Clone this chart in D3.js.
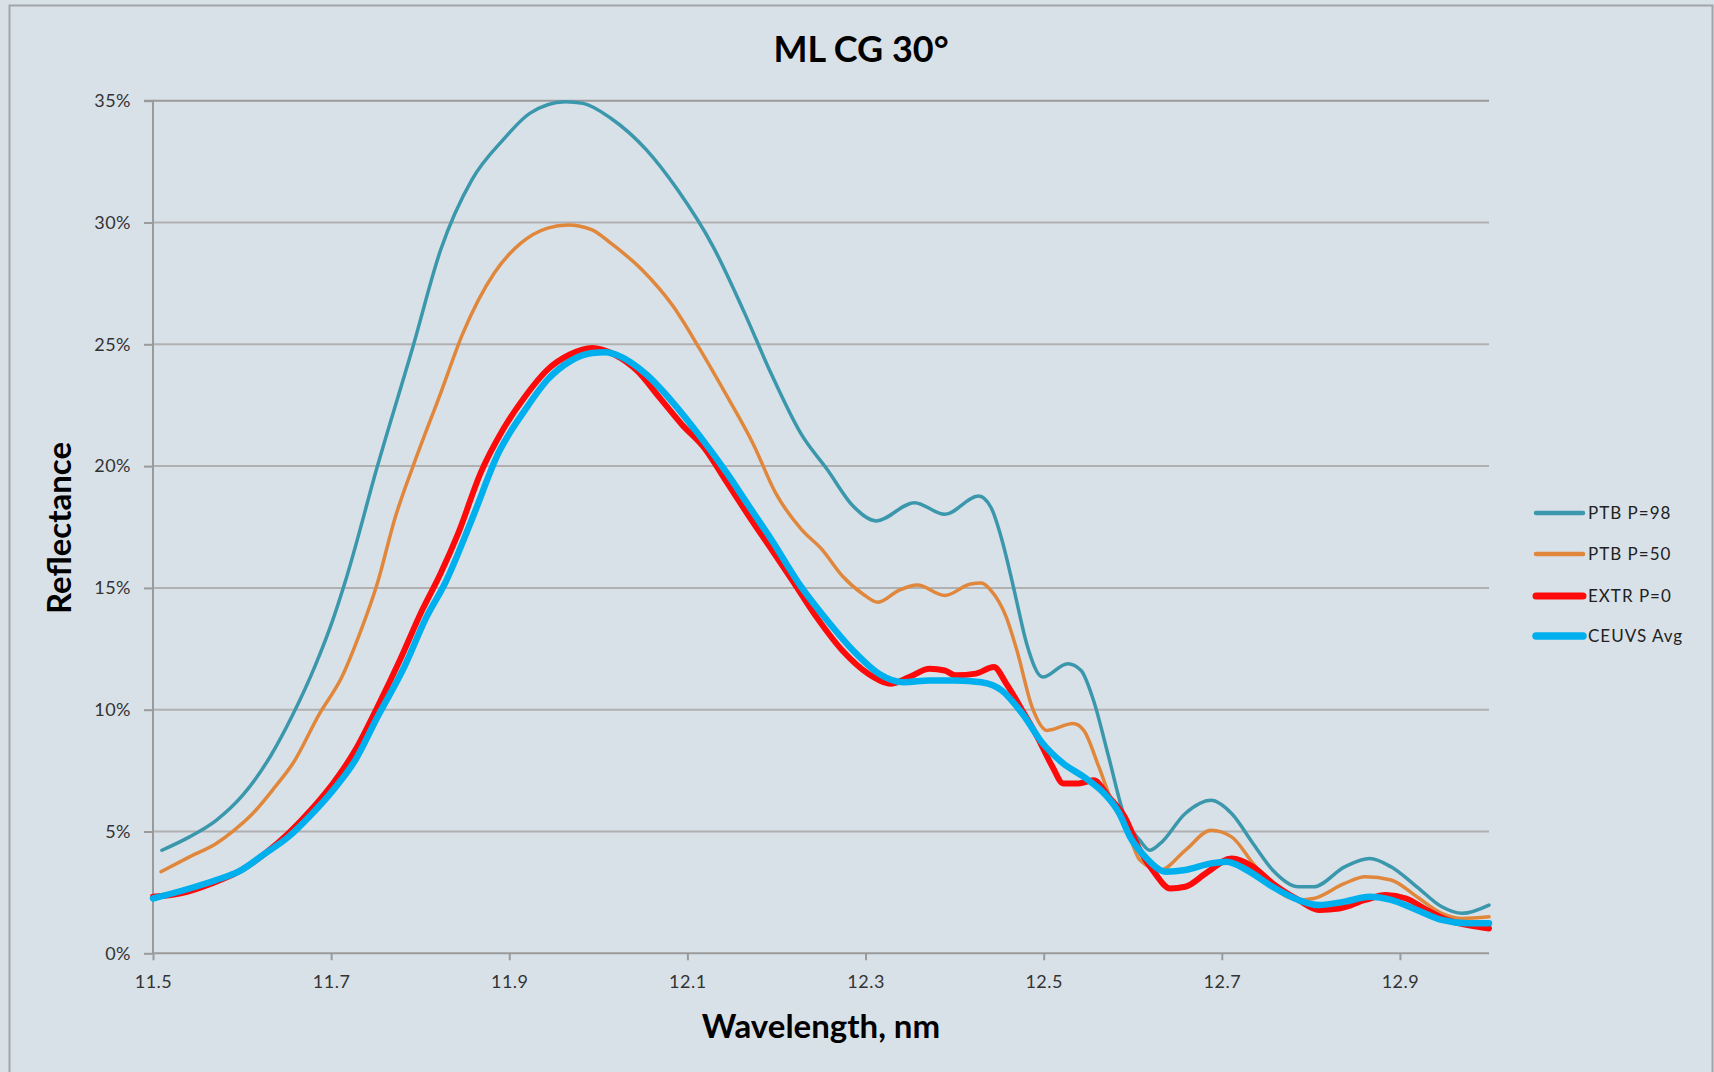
<!DOCTYPE html>
<html>
<head>
<meta charset="utf-8">
<script src="https://cdn.jsdelivr.net/npm/d3@7"></script>
<style>
  html, body { margin: 0; padding: 0; background: #d9e1e8; }
  svg { display: block; }
</style>
</head>
<body>
<svg id="chart" width="1714" height="1072"></svg>
<script>
// ---------------- DATA ----------------
const chartTitle = "ML CG 30°";
const xAxisTitle = "Wavelength, nm";
const yAxisTitle = "Reflectance";
const seriesNames = ["PTB P=98", "PTB P=50", "EXTR P=0", "CEUVS Avg"];
const xTicks = [11.5, 11.7, 11.9, 12.1, 12.3, 12.5, 12.7, 12.9];
const yTicks = [0, 5, 10, 15, 20, 25, 30, 35];

const ptb98Wl = [11.51, 11.541, 11.571, 11.601, 11.632, 11.657, 11.682, 11.702, 11.717, 11.752, 11.792, 11.823, 11.858, 11.893, 11.923, 11.963, 11.983, 12.014, 12.054, 12.089, 12.129, 12.164, 12.194, 12.228, 12.257, 12.286, 12.312, 12.355, 12.389, 12.427, 12.441, 12.453, 12.464, 12.470, 12.481, 12.499, 12.527, 12.542, 12.556, 12.573, 12.591, 12.608, 12.619, 12.631, 12.659, 12.688, 12.711, 12.735, 12.757, 12.786, 12.803, 12.838, 12.866, 12.89, 12.919, 12.947, 12.97, 13.0];
const ptb98R = [4.23, 4.78, 5.46, 6.5, 8.1, 9.8, 11.8, 13.7, 15.4, 20.0, 24.92, 28.88, 31.75, 33.39, 34.48, 34.96, 34.89, 34.28, 32.98, 31.34, 29.0, 26.3, 23.8, 21.3, 19.86, 18.36, 17.75, 18.5, 18.02, 18.77, 18.29, 16.99, 15.36, 14.4, 12.7, 11.34, 11.89, 11.61, 10.38, 8.06, 5.6, 4.64, 4.23, 4.51, 5.74, 6.28, 5.74, 4.51, 3.42, 2.73, 2.73, 3.55, 3.89, 3.55, 2.73, 1.91, 1.64, 1.98];

const ptb50Wl = [11.509, 11.541, 11.571, 11.591, 11.612, 11.637, 11.657, 11.687, 11.712, 11.732, 11.752, 11.772, 11.792, 11.823, 11.848, 11.883, 11.913, 11.943, 11.966, 11.993, 12.014, 12.049, 12.084, 12.114, 12.144, 12.174, 12.199, 12.228, 12.251, 12.274, 12.297, 12.314, 12.337, 12.358, 12.389, 12.418, 12.43, 12.441, 12.458, 12.47, 12.487, 12.504, 12.533, 12.545, 12.562, 12.579, 12.591, 12.608, 12.631, 12.659, 12.688, 12.711, 12.735, 12.757, 12.786, 12.803, 12.838, 12.861, 12.89, 12.919, 12.947, 12.97, 13.0];
const ptb50R = [3.35, 3.96, 4.51, 5.05, 5.74, 6.83, 7.79, 9.84, 11.34, 13.11, 15.2, 17.9, 20.0, 23.0, 25.46, 27.92, 29.15, 29.77, 29.9, 29.7, 29.15, 28.06, 26.56, 24.8, 22.9, 20.9, 18.9, 17.4, 16.58, 15.49, 14.75, 14.41, 14.89, 15.12, 14.69, 15.16, 15.2, 14.89, 13.8, 12.43, 10.11, 9.15, 9.43, 9.15, 7.65, 6.01, 5.33, 3.83, 3.42, 4.23, 5.05, 4.78, 3.69, 2.73, 2.19, 2.25, 2.87, 3.14, 3.01, 2.32, 1.64, 1.43, 1.5];

const extrWl = [11.5, 11.531, 11.566, 11.596, 11.626, 11.652, 11.677, 11.702, 11.727, 11.752, 11.777, 11.802, 11.823, 11.843, 11.868, 11.893, 11.918, 11.943, 11.968, 11.993, 12.018, 12.044, 12.069, 12.094, 12.119, 12.144, 12.169, 12.194, 12.217, 12.245, 12.274, 12.303, 12.329, 12.349, 12.372, 12.389, 12.401, 12.424, 12.444, 12.458, 12.476, 12.493, 12.51, 12.522, 12.539, 12.556, 12.573, 12.591, 12.608, 12.625, 12.642, 12.659, 12.682, 12.711, 12.735, 12.757, 12.786, 12.809, 12.832, 12.861, 12.884, 12.907, 12.93, 12.953, 12.976, 13.0];
const extrR = [2.32, 2.46, 2.87, 3.35, 4.1, 4.92, 5.87, 6.97, 8.33, 10.11, 12.02, 14.07, 15.6, 17.27, 19.73, 21.5, 22.87, 23.96, 24.58, 24.85, 24.58, 23.9, 22.8, 21.7, 20.75, 19.35, 17.95, 16.6, 15.35, 13.8, 12.43, 11.48, 11.07, 11.34, 11.68, 11.61, 11.41, 11.48, 11.75, 11.07, 9.97, 8.88, 7.65, 6.97, 6.97, 7.1, 6.42, 5.6, 4.23, 3.28, 2.66, 2.73, 3.28, 3.89, 3.55, 2.87, 2.19, 1.78, 1.84, 2.19, 2.39, 2.25, 1.78, 1.37, 1.16, 1.02];

const ceuvsWl = [11.5, 11.541, 11.571, 11.596, 11.626, 11.652, 11.677, 11.702, 11.727, 11.752, 11.782, 11.807, 11.828, 11.858, 11.888, 11.918, 11.943, 11.968, 11.993, 12.008, 12.024, 12.054, 12.084, 12.114, 12.144, 12.169, 12.194, 12.228, 12.257, 12.286, 12.315, 12.343, 12.372, 12.401, 12.43, 12.453, 12.476, 12.499, 12.522, 12.545, 12.568, 12.585, 12.597, 12.614, 12.637, 12.659, 12.688, 12.705, 12.728, 12.757, 12.786, 12.809, 12.838, 12.866, 12.89, 12.919, 12.947, 12.976, 13.0];
const ceuvsR = [2.25, 2.66, 3.01, 3.35, 4.1, 4.78, 5.67, 6.69, 7.92, 9.7, 11.75, 13.8, 15.2, 17.81, 20.55, 22.32, 23.55, 24.3, 24.64, 24.67, 24.51, 23.76, 22.6, 21.23, 19.73, 18.36, 17.0, 15.03, 13.66, 12.43, 11.48, 11.13, 11.2, 11.2, 11.13, 10.79, 9.84, 8.61, 7.79, 7.24, 6.56, 5.74, 4.78, 3.96, 3.35, 3.42, 3.69, 3.76, 3.42, 2.73, 2.19, 1.98, 2.12, 2.32, 2.19, 1.78, 1.37, 1.23, 1.23];

// ---------------- CHART ----------------
const svg = d3.select("#chart");
const margin = { left: 153, right: 1714 - 1489, top: 100.7, bottom: 1072 - 953.3 };
const W = 1714, H = 1072;
const FONT = "Lato, 'Open Sans', sans-serif";

const x = d3.scaleLinear().domain([11.5, 13.0]).range([margin.left, W - margin.right]);
const y = d3.scaleLinear().domain([0, 35]).range([H - margin.bottom, margin.top]);

// background + border
svg.append("rect").attr("x", 0).attr("y", 0).attr("width", W).attr("height", H).attr("fill", "#d9e1e8");
svg.append("rect").attr("x", 9.5).attr("y", 5.5).attr("width", 1703).attr("height", 1100)
  .attr("fill", "none").attr("stroke", "#a3a6a9").attr("stroke-width", 2);

// gridlines
svg.append("g").selectAll("line").data(yTicks.filter(d => d > 0)).join("line")
  .attr("x1", x(11.5)).attr("x2", x(13.0))
  .attr("y1", d => y(d)).attr("y2", d => y(d))
  .attr("stroke", d => d === 35 ? "#9a9a9a" : "#b0b0b0").attr("stroke-width", 2);

// y axis
const yAxis = d3.axisLeft(y).tickValues(yTicks).tickFormat(d => d + "%").tickSize(9).tickPadding(13);
const gy = svg.append("g").attr("transform", `translate(${x(11.5)},0)`).call(yAxis);
gy.select(".domain").attr("stroke", "#9a9a9a").attr("stroke-width", 2).attr("d", `M-9,${y(35)}H0V${y(0)}`);
gy.selectAll(".tick line").attr("stroke", "#9a9a9a").attr("stroke-width", 2);
gy.selectAll(".tick text").attr("font-family", FONT).attr("font-size", 18)
  .attr("fill", "#333").attr("letter-spacing", "0.5px");

// x axis
const xAxis = d3.axisBottom(x).tickValues(xTicks).tickFormat(d3.format(".1f")).tickSize(7).tickPadding(15);
const gx = svg.append("g").attr("transform", `translate(0,${y(0)})`).call(xAxis);
gx.select(".domain").attr("stroke", "#9a9a9a").attr("stroke-width", 2).attr("d", `M${x(11.5)},0H${x(13.0)}`);
gx.selectAll(".tick line").attr("stroke", "#9a9a9a").attr("stroke-width", 2);
gx.selectAll(".tick text").attr("font-family", FONT).attr("font-size", 18)
  .attr("fill", "#333").attr("letter-spacing", "0.5px");

// series
const series = [
  { name: seriesNames[0], wl: ptb98Wl, r: ptb98R, color: "#3a97ac", width: 3.5 },
  { name: seriesNames[1], wl: ptb50Wl, r: ptb50R, color: "#e0873c", width: 3.5 },
  { name: seriesNames[2], wl: extrWl, r: extrR, color: "#ff0a0a", width: 6 },
  { name: seriesNames[3], wl: ceuvsWl, r: ceuvsR, color: "#00b0ee", width: 6.5 }
];

const line = d3.line().x(d => x(d[0])).y(d => y(d[1])).curve(d3.curveMonotoneX);
svg.append("g").selectAll("path").data(series).join("path")
  .attr("d", s => line(s.wl.map((w, i) => [w, s.r[i]])))
  .attr("fill", "none")
  .attr("stroke", s => s.color)
  .attr("stroke-width", s => s.width)
  .attr("stroke-linejoin", "round")
  .attr("stroke-linecap", "round");

// legend
const legY = [513, 554, 596, 636];
const leg = svg.append("g").selectAll("g").data(series).join("g")
  .attr("transform", (s, i) => `translate(0,${legY[i]})`);
leg.append("line").attr("x1", 1536).attr("x2", 1583).attr("y1", 0).attr("y2", 0)
  .attr("stroke", s => s.color).attr("stroke-width", s => s.width + 1).attr("stroke-linecap", "round");
leg.append("text").attr("x", 1588).attr("y", 0).attr("dy", "0.35em")
  .attr("font-family", FONT).attr("font-size", 17)
  .attr("letter-spacing", "1px").attr("fill", "#222").text(s => s.name);

// titles
svg.append("text").attr("x", 861).attr("y", 62).attr("text-anchor", "middle")
  .attr("font-family", FONT).attr("font-weight", "bold").attr("font-size", 36)
  .attr("fill", "#000").text(chartTitle);
svg.append("text").attr("x", 821).attr("y", 1038).attr("text-anchor", "middle")
  .attr("font-family", FONT).attr("font-weight", "bold").attr("font-size", 33)
  .attr("fill", "#000").text(xAxisTitle);
svg.append("text").attr("transform", "translate(71,528) rotate(-90)").attr("text-anchor", "middle")
  .attr("font-family", FONT).attr("font-weight", "bold").attr("font-size", 33)
  .attr("fill", "#000").text(yAxisTitle);
</script>
</body>
</html>
